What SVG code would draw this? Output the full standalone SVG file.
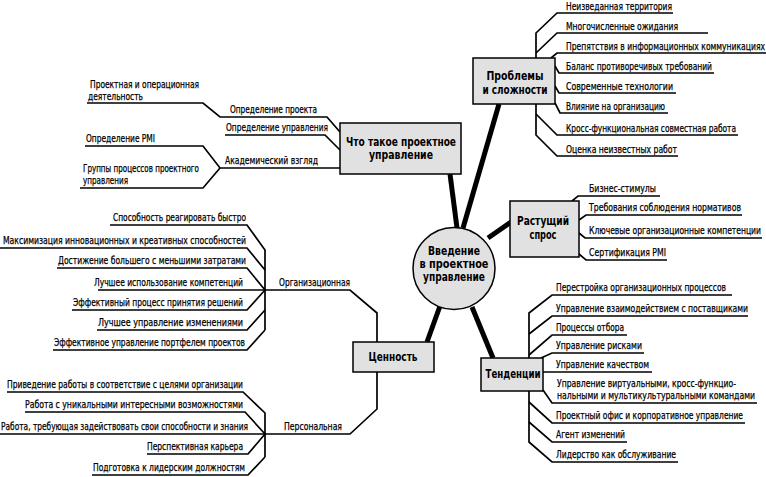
<svg xmlns="http://www.w3.org/2000/svg" width="766" height="477" viewBox="0 0 766 477">
<style>
.t{font-family:"Liberation Sans Narrow","DejaVu Sans Condensed","Liberation Sans",sans-serif;font-size:11px;fill:#000;stroke:#000;stroke-width:0.25}
.b{font-family:"Liberation Sans Narrow","DejaVu Sans Condensed","Liberation Sans",sans-serif;font-size:12px;font-weight:bold;fill:#000;text-anchor:middle}
.box{fill:#e1e1e1;stroke:#000;stroke-width:1.5}
.ln{fill:none;stroke:#000;stroke-width:1.7;stroke-linejoin:miter}
.th{fill:none;stroke:#000;stroke-width:5;stroke-linecap:butt}
</style>
<rect width="766" height="477" fill="#fff"/>
<g id="connectors">
<g class="th">
<line x1="450" y1="174" x2="457" y2="228"/>
<line x1="499" y1="104" x2="463" y2="228"/>
<line x1="488" y1="238" x2="511" y2="222"/>
<line x1="440" y1="306" x2="427" y2="342"/>
<line x1="472" y1="307" x2="493" y2="358"/>
</g>
<g class="ln">
<path d="M536,58 V33 L557,13 H673"/>
<path d="M536,53 L557,33 H708"/>
<path d="M551,58 L557,53 H766"/>
<path d="M555,66 L559,73 H714"/>
<path d="M555,86 L559,93 H676"/>
<path d="M555,103 L560,113 H668"/>
<path d="M536,104 V135 L557,156 H678"/>
<path d="M536,114 L557,135 H738"/>
<path d="M572,201 L578,196 H660"/>
<path d="M579,220 L586,215 H742"/>
<path d="M579,233 L585,238 H762"/>
<path d="M579,254 L586,260 H667"/>
<path d="M529,358 V313 L552,295 H732"/>
<path d="M529,334 L552,316 H748"/>
<path d="M529,355 L552,335 H627"/>
<path d="M541,358 L552,353 H644"/>
<path d="M543,372 H652"/>
<path d="M543,390 L552,403 H757"/>
<path d="M529,391 V442 L552,462 H678"/>
<path d="M529,402 L552,423 H745"/>
<path d="M529,422 L552,442 H627"/>
<path d="M87,103 H203 L220,117 H327 L340,132"/>
<path d="M225,135 H325 L340,150"/>
<path d="M85,146 H203 L220,168 H340"/>
<path d="M80,188 H203 L220,168"/>
<path d="M377,342 V313 L350,290 H265"/>
<path d="M110,225 H247 L265,250 V330"/>
<path d="M0,248 H247 L265,270"/>
<path d="M57,268 H247 L265,290"/>
<path d="M98,290 H265"/>
<path d="M72,310 H247 L265,290"/>
<path d="M97,330 H247 L265,310"/>
<path d="M53,350 H247 L265,330"/>
<path d="M377,372 V409 L350,434 H265"/>
<path d="M7,392 H243 L265,413 V457"/>
<path d="M25,412 H245 L265,434"/>
<path d="M0,434 H265"/>
<path d="M147,454 H248 L265,434"/>
<path d="M92,475 H248 L265,457"/>
</g>
</g>
<g id="center">
<circle class="box" cx="454" cy="268.5" r="41"/>
<text class="b" x="454" y="255" textLength="52" lengthAdjust="spacingAndGlyphs">Введение</text>
<text class="b" x="454" y="268" textLength="69" lengthAdjust="spacingAndGlyphs">в проектное</text>
<text class="b" x="454" y="281" textLength="62" lengthAdjust="spacingAndGlyphs">управление</text>
</g>
<g id="what">
<rect class="box" x="340" y="123" width="121" height="51"/>
<text class="b" x="401" y="146" textLength="110" lengthAdjust="spacingAndGlyphs">Что такое проектное</text>
<text class="b" x="401" y="159" textLength="64" lengthAdjust="spacingAndGlyphs">управление</text>
</g>
<g id="problems">
<rect class="box" x="473" y="58" width="82" height="46"/>
<text class="b" x="515" y="80" textLength="57" lengthAdjust="spacingAndGlyphs">Проблемы</text>
<text class="b" x="515" y="94" textLength="65" lengthAdjust="spacingAndGlyphs">и сложности</text>
</g>
<g id="demand">
<rect class="box" x="510" y="201" width="69" height="56"/>
<text class="b" x="543" y="225" textLength="52" lengthAdjust="spacingAndGlyphs">Растущий</text>
<text class="b" x="543" y="239" textLength="27" lengthAdjust="spacingAndGlyphs">спрос</text>
</g>
<g id="value">
<rect class="box" x="353" y="342" width="81" height="30"/>
<text class="b" x="393" y="361" textLength="49" lengthAdjust="spacingAndGlyphs">Ценность</text>
</g>
<g id="trends">
<rect class="box" x="481" y="358" width="62" height="33"/>
<text class="b" x="513" y="378" textLength="55" lengthAdjust="spacingAndGlyphs">Тенденции</text>
</g>
<g id="problems-items">
<text class="t" x="566" y="10" textLength="106" lengthAdjust="spacingAndGlyphs">Неизведанная территория</text>
<text class="t" x="566" y="30" textLength="112" lengthAdjust="spacingAndGlyphs">Многочисленные ожидания</text>
<text class="t" x="566" y="50" textLength="199" lengthAdjust="spacingAndGlyphs">Препятствия в информационных коммуникациях</text>
<text class="t" x="566" y="70" textLength="146" lengthAdjust="spacingAndGlyphs">Баланс противоречивых требований</text>
<text class="t" x="566" y="90" textLength="107" lengthAdjust="spacingAndGlyphs">Современные технологии</text>
<text class="t" x="566" y="110" textLength="99" lengthAdjust="spacingAndGlyphs">Влияние на организацию</text>
<text class="t" x="566" y="132" textLength="170" lengthAdjust="spacingAndGlyphs">Кросс-функциональная совместная работа</text>
<text class="t" x="566" y="153" textLength="111" lengthAdjust="spacingAndGlyphs">Оценка неизвестных работ</text>
</g>
<g id="demand-items">
<text class="t" x="589" y="192" textLength="67" lengthAdjust="spacingAndGlyphs">Бизнес-стимулы</text>
<text class="t" x="589" y="211" textLength="152" lengthAdjust="spacingAndGlyphs">Требования соблюдения нормативов</text>
<text class="t" x="589" y="234" textLength="172" lengthAdjust="spacingAndGlyphs">Ключевые организационные компетенции</text>
<text class="t" x="589" y="256" textLength="77" lengthAdjust="spacingAndGlyphs">Сертификация PMI</text>
</g>
<g id="trends-items">
<text class="t" x="556" y="291" textLength="170" lengthAdjust="spacingAndGlyphs">Перестройка организационных процессов</text>
<text class="t" x="556" y="312" textLength="192" lengthAdjust="spacingAndGlyphs">Управление взаимодействием с поставщиками</text>
<text class="t" x="556" y="331" textLength="68" lengthAdjust="spacingAndGlyphs">Процессы отбора</text>
<text class="t" x="556" y="349" textLength="86" lengthAdjust="spacingAndGlyphs">Управление рисками</text>
<text class="t" x="556" y="368" textLength="93" lengthAdjust="spacingAndGlyphs">Управление качеством</text>
<text class="t" x="557" y="387" textLength="179" lengthAdjust="spacingAndGlyphs">Управление виртуальными, кросс-функцио-</text>
<text class="t" x="557" y="399" textLength="198" lengthAdjust="spacingAndGlyphs">нальными и мультикультуральными командами</text>
<text class="t" x="556" y="419" textLength="187" lengthAdjust="spacingAndGlyphs">Проектный офис и корпоративное управление</text>
<text class="t" x="556" y="438" textLength="69" lengthAdjust="spacingAndGlyphs">Агент изменений</text>
<text class="t" x="556" y="458" textLength="120" lengthAdjust="spacingAndGlyphs">Лидерство как обслуживание</text>
</g>
<g id="what-items">
<text class="t" x="90" y="88" textLength="109" lengthAdjust="spacingAndGlyphs">Проектная и операционная</text>
<text class="t" x="88" y="100" textLength="55" lengthAdjust="spacingAndGlyphs">деятельность</text>
<text class="t" x="230" y="113" textLength="87" lengthAdjust="spacingAndGlyphs">Определение проекта</text>
<text class="t" x="226" y="131" textLength="102" lengthAdjust="spacingAndGlyphs">Определение управления</text>
<text class="t" x="86" y="142" textLength="69" lengthAdjust="spacingAndGlyphs">Определение PMI</text>
<text class="t" x="225" y="164" textLength="93" lengthAdjust="spacingAndGlyphs">Академический взгляд</text>
<text class="t" x="83" y="172" textLength="116" lengthAdjust="spacingAndGlyphs">Группы процессов проектного</text>
<text class="t" x="83" y="184" textLength="45" lengthAdjust="spacingAndGlyphs">управления</text>
</g>
<g id="value-org">
<text class="t" x="279" y="286" textLength="71" lengthAdjust="spacingAndGlyphs">Организационная</text>
<text class="t" x="113" y="221" textLength="133" lengthAdjust="spacingAndGlyphs">Способность реагировать быстро</text>
<text class="t" x="3" y="244" textLength="243" lengthAdjust="spacingAndGlyphs">Максимизация инновационных и креативных способностей</text>
<text class="t" x="58" y="264" textLength="188" lengthAdjust="spacingAndGlyphs">Достижение большего с меньшими затратами</text>
<text class="t" x="94" y="286" textLength="149" lengthAdjust="spacingAndGlyphs">Лучшее использование компетенций</text>
<text class="t" x="73" y="306" textLength="170" lengthAdjust="spacingAndGlyphs">Эффективный процесс принятия решений</text>
<text class="t" x="98" y="326" textLength="145" lengthAdjust="spacingAndGlyphs">Лучшее управление изменениями</text>
<text class="t" x="54" y="346" textLength="191" lengthAdjust="spacingAndGlyphs">Эффективное управление портфелем проектов</text>
</g>
<g id="value-personal">
<text class="t" x="284" y="430" textLength="58" lengthAdjust="spacingAndGlyphs">Персональная</text>
<text class="t" x="7" y="388" textLength="236" lengthAdjust="spacingAndGlyphs">Приведение работы в соответствие с целями организации</text>
<text class="t" x="25" y="408" textLength="218" lengthAdjust="spacingAndGlyphs">Работа с уникальными интересными возможностями</text>
<text class="t" x="1" y="430" textLength="247" lengthAdjust="spacingAndGlyphs">Работа, требующая задействовать свои способности и знания</text>
<text class="t" x="147" y="450" textLength="96" lengthAdjust="spacingAndGlyphs">Перспективная карьера</text>
<text class="t" x="93" y="471" textLength="152" lengthAdjust="spacingAndGlyphs">Подготовка к лидерским должностям</text>
</g>
</svg>
